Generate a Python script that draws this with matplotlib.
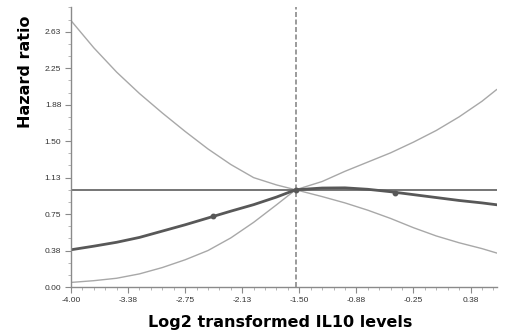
import numpy as np
import matplotlib
matplotlib.use('Agg')
import matplotlib.pyplot as plt
from matplotlib.ticker import FixedLocator, MultipleLocator

# valores
log2_il10 = [-4.0, -3.75, -3.5, -3.25, -3.0, -2.75, -2.5, -2.25, -2.0, -1.75,
             -1.54, -1.25, -1.0, -0.75, -0.5, -0.25, 0.0, 0.25, 0.5, 0.66]
hr = [0.383, 0.42, 0.46, 0.51, 0.575, 0.64, 0.71, 0.78, 0.847, 0.925,
      1.0, 1.018, 1.02, 1.005, 0.98, 0.95, 0.92, 0.89, 0.865, 0.846]
ci_sup = [2.74, 2.46, 2.21, 1.99, 1.79, 1.60, 1.42, 1.26, 1.125, 1.05,
          1.0, 1.085, 1.19, 1.285, 1.38, 1.49, 1.61, 1.75, 1.91, 2.03]
ci_inf = [0.047, 0.065, 0.09, 0.135, 0.2, 0.28, 0.375, 0.505, 0.665, 0.845,
          1.0, 0.93, 0.865, 0.79, 0.705, 0.61, 0.525, 0.455, 0.395, 0.35]
marcas_x = [-2.45, -1.54, -0.45]
marcas_y = [0.726, 1.0, 0.972]
ref_x = -1.54
ref_hr = 1.0

x_ticks = [-4.0, -3.375, -2.75, -2.125, -1.5, -0.875, -0.25, 0.375]
x_labels = ['-4.00', '-3.38', '-2.75', '-2.13', '-1.50', '-0.88', '-0.25', '0.38']
y_ticks = [0.0, 0.375, 0.75, 1.125, 1.5, 1.875, 2.25, 2.625]
y_labels = ['0.00', '0.38', '0.75', '1.13', '1.50', '1.88', '2.25', '2.63']

fig = plt.figure(figsize=(5.07, 3.34), dpi=100)
ax = fig.add_axes([71 / 507, 47 / 334, 426 / 507, 280 / 334])

ax.plot(log2_il10, ci_sup, color='#a8a8a8', lw=1.0)
ax.plot(log2_il10, ci_inf, color='#a8a8a8', lw=1.0)
ax.axhline(ref_hr, color='#6a6a6a', lw=1.3)
ax.axvline(ref_x, color='#8a8a8a', lw=1.2, linestyle=(0, (3, 1.5)))
ax.plot(log2_il10, hr, color='#585858', lw=2.0)
ax.plot(marcas_x, marcas_y, 'o', color='#585858', ms=3.2)

ax.set_xlim(-4.0, 0.665)
ax.set_ylim(0, 2.88)

ax.set_xticks(x_ticks)
ax.set_xticklabels(x_labels)
ax.set_yticks(y_ticks)
ax.set_yticklabels(y_labels)
ax.xaxis.set_minor_locator(FixedLocator(np.arange(-4.0, 0.67, 0.125)))
ax.yaxis.set_minor_locator(MultipleLocator(0.125))

for s in ['top', 'right']:
    ax.spines[s].set_visible(False)
for s in ['left', 'bottom']:
    ax.spines[s].set_color('#8a8a8a')
    ax.spines[s].set_linewidth(1.0)

ax.tick_params(which='major', length=4, width=0.8, color='#8a8a8a',
               labelsize=6, labelcolor='#333333', pad=3)
ax.tick_params(which='minor', length=2, width=0.6, color='#aaaaaa')
for lab in ax.get_xticklabels() + ax.get_yticklabels():
    lab.set_family('Liberation Sans')

fig.text(280 / 507, 1 - 322 / 334, 'Log2 transformed IL10 levels',
         ha='center', va='center', fontsize=11.5, fontweight='bold')
fig.text(26 / 507, 1 - 72 / 334, 'Hazard ratio', rotation=90,
         ha='center', va='center', fontsize=11.5, fontweight='bold')

fig.savefig('out.png', dpi=100)
